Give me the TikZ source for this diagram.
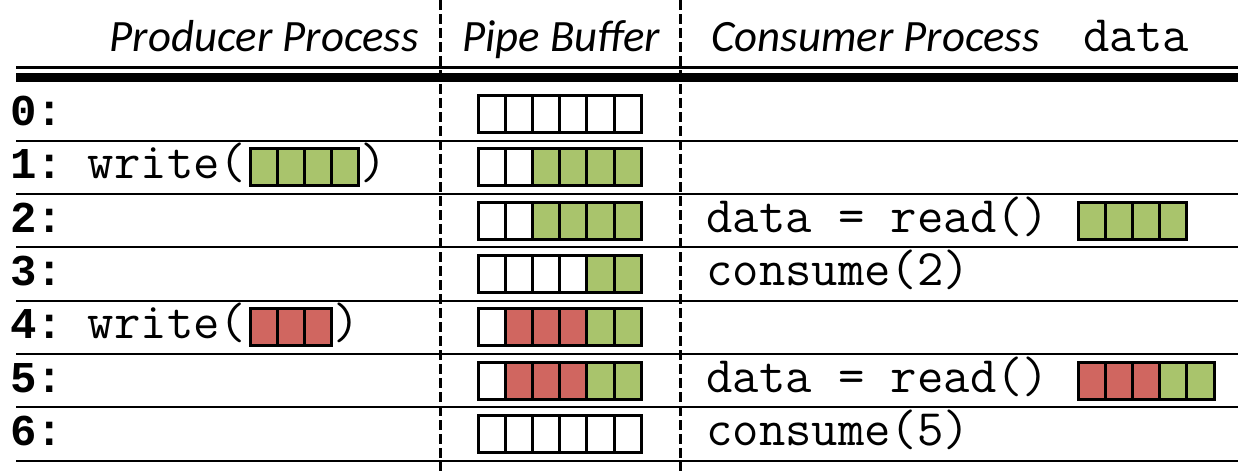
\documentclass[tikz,border=0pt]{standalone}
\usepackage{fontspec}
\setmainfont{Carlito}
\setmonofont{Latin Modern Mono}
\newfontfamily\lblfont{Liberation Mono}
\usetikzlibrary{positioning}

\definecolor{grn}{RGB}{169,196,108}
\definecolor{rd}{RGB}{208,102,96}

\tikzset{
  cell/.style={draw, line width=1.5pt, minimum width=13.6pt, minimum height=18.5pt, inner sep=0pt, outer sep=0pt},
  txt/.style={anchor=base west, inner sep=0pt, font=\fontsize{25.6}{28}\selectfont\ttfamily},
  lbl/.style={anchor=base west, inner sep=0pt, font=\fontsize{22}{26}\selectfont\lblfont\bfseries},
  head/.style={anchor=base, inner sep=0pt, font=\fontsize{22.4}{26}\selectfont\itshape},
  rowline/.style={line width=1pt},
  divider/.style={line width=1.5pt, dash pattern=on 5pt off 2pt}
}

% one strip of cells: name, left x, centre y, colours
\newcommand{\cellrow}[4]{%
  \foreach \c [count=\i] in {#4}
    \node[cell, fill=\c] (#1\i) at ({#2+(\i-0.5)*27.2},#3) {};
}

\begin{document}
\begin{tikzpicture}[x=0.5pt, y=-0.5pt]
    \useasboundingbox (0,0) rectangle (1246,471);

    % header
    \node[head, anchor=base east] (prod) at (419,51) {Producer Process};
    \node[head] (pipe) at (561,51) {Pipe Buffer};
    \node[head, anchor=base west] (cons) at (711,51) {Consumer Process};
    \node[txt] (dat) at (1083,51) {data};

    \draw[line width=1.5pt] (16,67.5) -- (1238,67.5);
    \draw[line width=4.5pt] (16,77) -- (1238,77);
    \foreach \y in {140.6,194,247.3,300.6,353.9,407.2,460.5}
        \draw[rowline] (16,\y) -- (1238,\y);

    % step numbers
    \foreach \r in {0,...,6}
        \node[lbl] (lbl\r) at (10,{125.5+53.3*\r}) {\r:};

    % producer
    \node[txt] (wr1) at (87.5,178.8) {write(};
    \cellrow{wa}{250}{167.3}{grn,grn,grn,grn}
    \node[txt] (cl1) at (360,178.8) {)};
    \node[txt] (wr4) at (87.5,338.7) {write(};
    \cellrow{wb}{250}{327.2}{rd,rd,rd}
    \node[txt] (cl4) at (332.6,338.7) {)};

    % pipe buffer
    \cellrow{buf0-}{478}{114}{white,white,white,white,white,white}
    \cellrow{buf1-}{478}{167.3}{white,white,grn,grn,grn,grn}
    \cellrow{buf2-}{478}{220.6}{white,white,grn,grn,grn,grn}
    \cellrow{buf3-}{478}{273.9}{white,white,white,white,grn,grn}
    \cellrow{buf4-}{478}{327.2}{white,rd,rd,rd,grn,grn}
    \cellrow{buf5-}{478}{380.5}{white,rd,rd,rd,grn,grn}
    \cellrow{buf6-}{478}{433.8}{white,white,white,white,white,white}

    % consumer
    \node[txt] (rd2) at (706,232.1) {data = read()};
    \cellrow{da}{1078}{220.6}{grn,grn,grn,grn}
    \node[txt] (cs3) at (706,285.4) {consume(2)};
    \node[txt] (rd5) at (706,392) {data = read()};
    \cellrow{db}{1078}{380.5}{rd,rd,rd,grn,grn}
    \node[txt] (cs6) at (706,445.3) {consume(5)};

    \draw[divider] (440,0) -- (440,471);
    \draw[divider] (680,0) -- (680,471);
\end{tikzpicture}
\end{document}
